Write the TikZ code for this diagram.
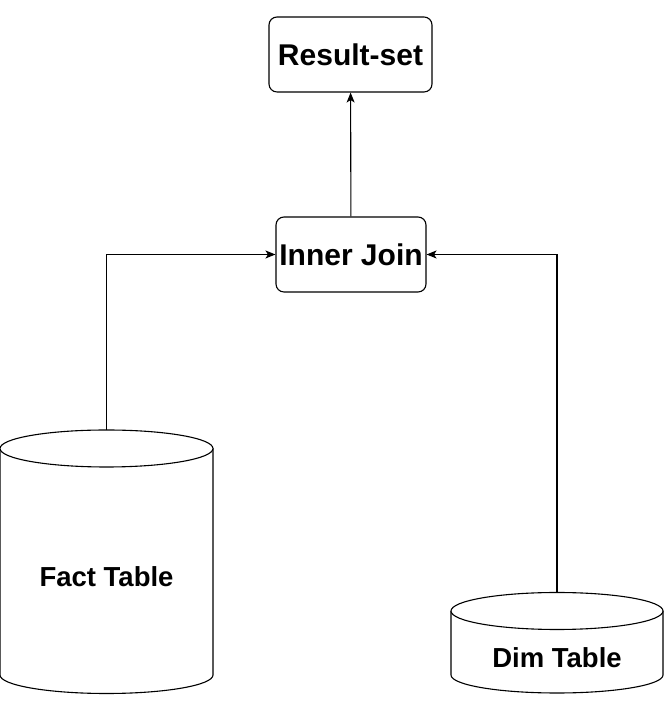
\documentclass[tikz,border=0pt]{standalone}
\usepackage{fontspec}
\setmainfont{Liberation Sans}
\usepackage{tikz}
\usetikzlibrary{arrows.meta,positioning}

\begin{document}
\begin{tikzpicture}[x=1pt,y=1pt,line width=1.1pt,
  box/.style={draw,rounded corners=8pt,minimum width=163pt,minimum height=75pt,
    inner sep=0pt,font=\fontsize{30}{31}\selectfont\bfseries},
  tablelabel/.style={inner sep=0pt,font=\fontsize{27.5}{28}\selectfont\bfseries},
  db/.style={draw,fill=white},
  flow/.style={-{Stealth[length=10pt,width=8pt,inset=2.5pt]}}]

% Canvas
\useasboundingbox (0,0) rectangle (667,727);

% Boxes
\node[box] (result) at (350.5,672.5) {Result-set};
\node[box,minimum width=150pt] (join) at (351,472.5) {Inner Join};

% Fact table cylinder
\draw[db] (0,278.5) -- (0,52) arc[start angle=180,end angle=360,x radius=106.5,y radius=18.5]
  -- (213,278.5);
\draw[db] (106.5,278.5) ellipse[x radius=106.5,y radius=18.5];
\node[tablelabel] (fact) at (106.5,150) {Fact Table};
\coordinate (facttop) at (106.5,297);

% Dim table cylinder
\draw[db] (451,116) -- (451,52) arc[start angle=180,end angle=360,x radius=106,y radius=18]
  -- (663,116);
\draw[db] (557,116) ellipse[x radius=106,y radius=18.5];
\node[tablelabel] (dim) at (557,69) {Dim Table};
\coordinate (dimtop) at (557,134.5);

% Connectors
\draw[flow] (facttop) |- (join);
\draw[flow] (dimtop) |- (join);
\draw[flow] (join) -- (result);

\end{tikzpicture}
\end{document}
